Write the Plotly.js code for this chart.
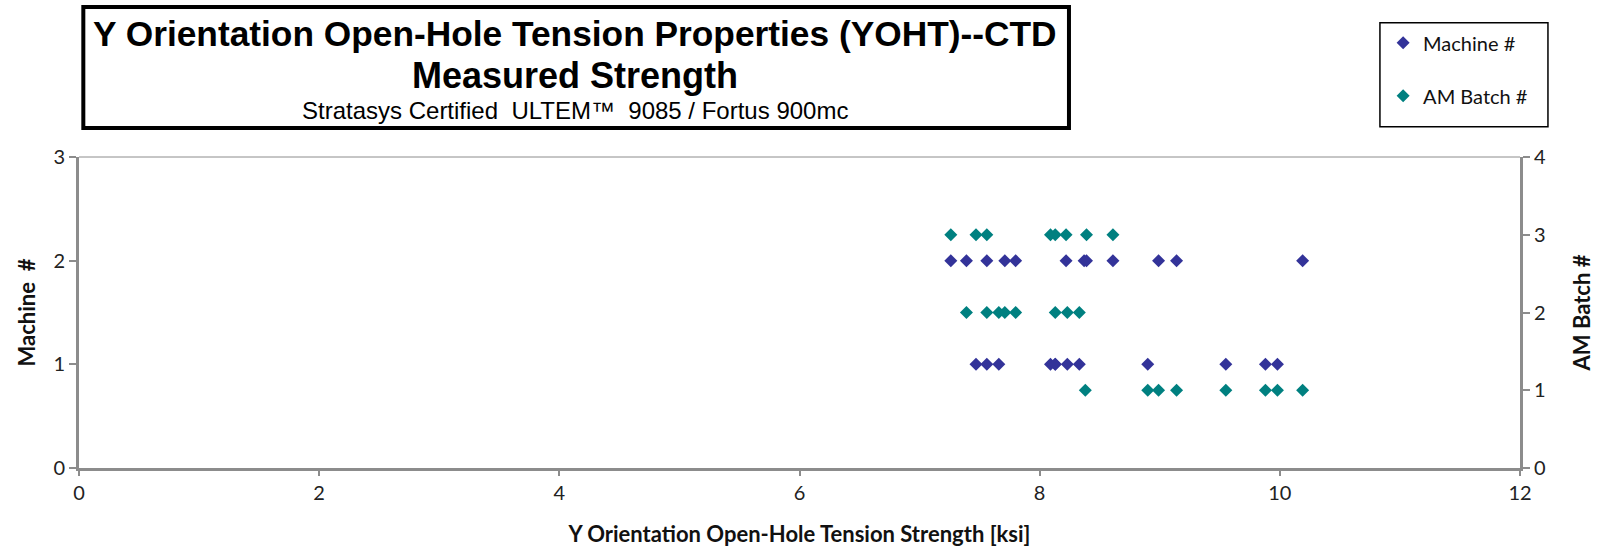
<!DOCTYPE html>
<html>
<head>
<meta charset="utf-8">
<script src="https://cdn.plot.ly/plotly-3.0.1.min.js"></script>
<style>
  html, body { margin: 0; padding: 0; background: #fff; }
  #chart { width: 1606px; height: 555px; }
</style>
</head>
<body>
<div id="chart"></div>
<script>
// Strength values [ksi]
const machine1Strength = [7.47, 7.56, 7.66, 8.09, 8.13, 8.13, 8.23, 8.33, 8.90, 9.55, 9.88, 9.98];
const machine2Strength = [7.26, 7.39, 7.56, 7.71, 7.80, 8.22, 8.37, 8.39, 8.61, 8.99, 9.14, 10.19];
const batch1Strength = [8.38, 8.90, 8.99, 9.14, 9.55, 9.88, 9.98, 10.19];
const batch2Strength = [7.39, 7.56, 7.66, 7.71, 7.80, 8.13, 8.23, 8.33];
const batch3Strength = [7.26, 7.47, 7.56, 8.09, 8.13, 8.22, 8.39, 8.61];

const machineIds = [1, 2];
const batchIds = [1, 2, 3];
const xTicks = [0, 2, 4, 6, 8, 10, 12];
const machineTicks = [0, 1, 2, 3];
const batchTicks = [0, 1, 2, 3, 4];

const titleLine1 = "Y Orientation Open-Hole Tension Properties (YOHT)--CTD";
const titleLine2 = "Measured Strength";
const subtitle = "Stratasys Certified  ULTEM™  9085 / Fortus 900mc";

const machineGroups = [machine1Strength, machine2Strength];
const batchGroups = [batch1Strength, batch2Strength, batch3Strength];

const mx = [], my = [];
machineGroups.forEach((arr, i) => arr.forEach(v => { mx.push(v); my.push(machineIds[i]); }));
const bx = [], by = [];
batchGroups.forEach((arr, i) => arr.forEach(v => { bx.push(v); by.push(batchIds[i]); }));

const axisGray = "#8c8c8c";
const bodyFont = "Lato, 'Open Sans', sans-serif";
const titleFont = "'Liberation Sans', Arial, sans-serif";

const traces = [
  {
    type: "scatter", mode: "markers", name: "Machine #",
    x: mx, y: my, xaxis: "x", yaxis: "y",
    marker: { symbol: "diamond", size: 10, color: "#333399" },
    legendgroup: "m", cliponaxis: false
  },
  {
    type: "scatter", mode: "markers", name: "AM Batch #",
    x: bx, y: by, xaxis: "x", yaxis: "y2",
    marker: { symbol: "diamond", size: 10, color: "#008080" },
    legendgroup: "b", cliponaxis: false
  }
];

const layout = {
  width: 1606, height: 555,
  paper_bgcolor: "#ffffff", plot_bgcolor: "#ffffff",
  margin: { l: 79, r: 86, t: 157, b: 87 },
  font: { family: bodyFont, color: "#222", size: 18 },
  showlegend: true,
  legend: {
    x: 0.905, y: 1.43, xanchor: "left", yanchor: "top",
    bgcolor: "rgba(0,0,0,0)", borderwidth: 0,
    font: { family: bodyFont, size: 20, color: "#111" },
    traceorder: "grouped", tracegroupgap: 24,
    itemwidth: 30, entrywidth: 150
  },
  xaxis: {
    range: [0, 12], tickvals: xTicks, ticktext: xTicks.map(String),
    showgrid: false, zeroline: false,
    showline: true, linecolor: axisGray, linewidth: 3,
    ticks: "outside", ticklen: 5, tickwidth: 2, tickcolor: axisGray,
    tickfont: { family: bodyFont, size: 20, color: "#222" },
    title: { text: "<b>Y Orientation Open-Hole Tension Strength [ksi]</b>",
             font: { family: bodyFont, size: 22, color: "#111" }, standoff: 24 }
  },
  yaxis: {
    range: [0, 3], tickvals: machineTicks, ticktext: machineTicks.map(String),
    showgrid: false, zeroline: false,
    showline: true, linecolor: axisGray, linewidth: 3,
    ticks: "outside", ticklen: 7, tickwidth: 2, tickcolor: axisGray,
    tickfont: { family: bodyFont, size: 20, color: "#222" },
    title: { text: "<b>Machine  #</b>", font: { family: bodyFont, size: 22, color: "#111" }, standoff: 12 }
  },
  yaxis2: {
    range: [0, 4], tickvals: batchTicks, ticktext: batchTicks.map(String),
    overlaying: "y", side: "right",
    showgrid: false, zeroline: false,
    showline: true, linecolor: axisGray, linewidth: 3,
    ticks: "outside", ticklen: 7, tickwidth: 2, tickcolor: axisGray,
    tickfont: { family: bodyFont, size: 20, color: "#222" },
    title: { text: "<b>AM Batch #</b>", font: { family: bodyFont, size: 22, color: "#111" }, standoff: 30 }
  },
  shapes: [
    { type: "line", xref: "paper", yref: "paper", x0: 0, x1: 1, y0: 1, y1: 1,
      line: { color: axisGray, width: 1 } },
    { type: "rect", xref: "paper", yref: "paper", x0: 0.003, x1: 0.687, y0: 1.093, y1: 1.482,
      line: { color: "#000", width: 4 }, fillcolor: "rgba(0,0,0,0)" },
    { type: "rect", xref: "paper", yref: "paper", x0: 0.9028, x1: 1.0194, y0: 1.097, y1: 1.432,
      line: { color: "#000", width: 1.5 }, fillcolor: "rgba(0,0,0,0)" }
  ],
  annotations: [
    { text: "<b>" + titleLine1 + "</b>", xref: "paper", yref: "paper", x: 0.344, y: 1.397,
      xanchor: "center", yanchor: "middle", showarrow: false,
      font: { family: titleFont, size: 35.3, color: "#000" } },
    { text: "<b>" + titleLine2 + "</b>", xref: "paper", yref: "paper", x: 0.344, y: 1.262,
      xanchor: "center", yanchor: "middle", showarrow: false,
      font: { family: titleFont, size: 36, color: "#000" } },
    { text: subtitle, xref: "paper", yref: "paper", x: 0.344, y: 1.15,
      xanchor: "center", yanchor: "middle", showarrow: false,
      font: { family: titleFont, size: 24, color: "#000" } }
  ]
};

Plotly.newPlot("chart", traces, layout, { displayModeBar: false, staticPlot: true });
</script>
</body>
</html>
